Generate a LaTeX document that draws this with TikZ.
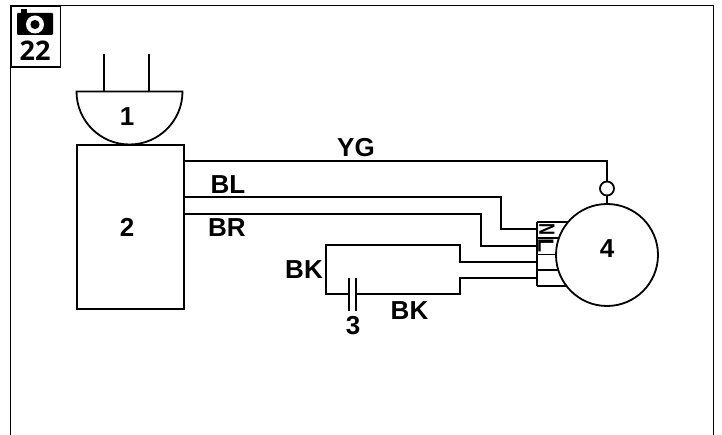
\documentclass[tikz,border=0pt]{standalone}
\usepackage{fontspec}
\setmainfont{Liberation Sans}
\newfontfamily\badgefont{Open Sans}
\tikzset{
  wire/.style={line width=1.8pt,line join=miter},
  thinwire/.style={line width=1.4pt,line join=miter},
  lab/.style={font=\fontsize{26}{27}\selectfont\bfseries,inner sep=0pt,anchor=center},
  term/.style={font=\fontsize{22}{22}\selectfont\bfseries,inner sep=0pt,anchor=center}
}
\begin{document}
\begin{tikzpicture}[x=1pt,y=-1pt]
\path[use as bounding box] (0,0) rectangle (722,435);
\fill[white] (0,0) rectangle (722,435);
% frame
\coordinate (fbl) at (10.5,435);
\coordinate (ftl) at (10.5,5.5);
\coordinate (ftr) at (713.5,5.5);
\coordinate (fbr) at (713.5,435);
\draw[thinwire] (fbl) -- (ftl) -- (ftr) -- (fbr);
% badge
\node[draw,line width=1.4pt,minimum width=48.5pt,minimum height=61pt,inner sep=0pt,anchor=north west] (badge) at (11,5.5) {};
\fill[rounded corners=1pt] (17,13) rectangle (53,35);
\fill (21,9.5) rectangle (27,14);
\fill[white] (35,24.5) circle (9);
\fill (35,24.5) circle (4.6);
\node[font=\badgefont\fontsize{27}{27}\selectfont\bfseries,inner sep=0pt] (num) at (35,51) {22};
% plug
\coordinate (pl) at (76.5,91.5);
\coordinate (pr) at (182.5,91.5);
\coordinate (p1b) at (104,91.5);
\coordinate (p1t) at (104,54);
\coordinate (p2b) at (149,91.5);
\coordinate (p2t) at (149,54);
\draw[wire] (pl) -- (pr) arc[start angle=0,end angle=180,x radius=53,y radius=53] -- cycle;
\draw[wire] (p1t) -- (p1b);
\draw[wire] (p2t) -- (p2b);
\node[lab] (n1) at (127,117) {1};
% controller
\node[draw,wire,minimum width=107pt,minimum height=163.5pt,inner sep=0pt,anchor=north west] (ctrl) at (76,144.5) {};
\node[lab] (n2) at (127,227.5) {2};
% terminal block
\coordinate (tl1) at (537,222);
\coordinate (tl2) at (537,238);
\coordinate (tl3) at (537,254.5);
\coordinate (tl4) at (537,270);
\coordinate (tl5) at (537,286);
\coordinate (tr1) at (574,222);
\coordinate (tr2) at (560,238);
\coordinate (tr3) at (558,254.5);
\coordinate (tr4) at (560,270);
\coordinate (tr5) at (574,286);
\draw[wire] (tl1) -- (tl5);
\draw[wire] (tl1) -- (tr1);
\draw[wire] (tl2) -- (tr2);
\draw[thinwire] (tl3) -- (tr3);
\draw[thinwire] (tl4) -- (tr4);
\draw[wire] (tl5) -- (tr5);
% motor
\node[draw,wire,fill=white,circle,minimum size=102pt,inner sep=0pt] (motor) at (607,255) {};
\node[lab] (n4) at (607,248.5) {4};
% ground
\node[draw,wire,circle,minimum size=14pt,inner sep=0pt] (gnd) at (607,188.5) {};
\draw[wire] (gnd.south) -- (motor.north);
\coordinate (yg1) at (607,161);
\draw[wire] (ctrl.north east |- yg1) -- (yg1) -- (gnd.north);
% BL BR
\coordinate (bl1) at (501,197);
\coordinate (bl2) at (501,229);
\coordinate (bl3) at (537,229);
\coordinate (br1) at (481,214);
\coordinate (br2) at (481,246);
\coordinate (br3) at (537,246);
\draw[wire] (ctrl.north east |- bl1) -- (bl1) -- (bl2) -- (bl3);
\draw[wire] (ctrl.north east |- br1) -- (br1) -- (br2) -- (br3);
% capacitor loop
\coordinate (c1) at (537,262);
\coordinate (c2) at (460,262);
\coordinate (c3) at (460,245);
\coordinate (c4) at (325.7,245);
\coordinate (c5) at (325.7,294);
\coordinate (c6) at (349,294);
\coordinate (c7) at (356,294);
\coordinate (c8) at (460,294);
\coordinate (c9) at (460,278);
\coordinate (c10) at (537,278);
\coordinate (pa) at (349,278);
\coordinate (pb) at (349,311);
\coordinate (qa) at (356,278);
\coordinate (qb) at (356,311);
\draw[wire] (c1) -- (c2) -- (c3) -- (c4) -- (c5) -- (c6);
\draw[wire] (c7) -- (c8) -- (c9) -- (c10);
\draw[wire] (pa) -- (pb);
\draw[wire] (qa) -- (qb);
% labels
\node[lab] (yg) at (356,148) {YG};
\node[lab] (bl) at (228,185) {BL};
\node[lab] (br) at (227,228) {BR};
\node[lab] (bk1) at (304,269.5) {BK};
\node[lab] (bk2) at (409.5,311) {BK};
\node[lab] (n3) at (353,325.5) {3};
\node[term,rotate=-90,xscale=0.75] (tn) at (547,229.7) {N};
\node[term,rotate=-90,xscale=1.05] (tl) at (546,246) {L};
\end{tikzpicture}
\end{document}
